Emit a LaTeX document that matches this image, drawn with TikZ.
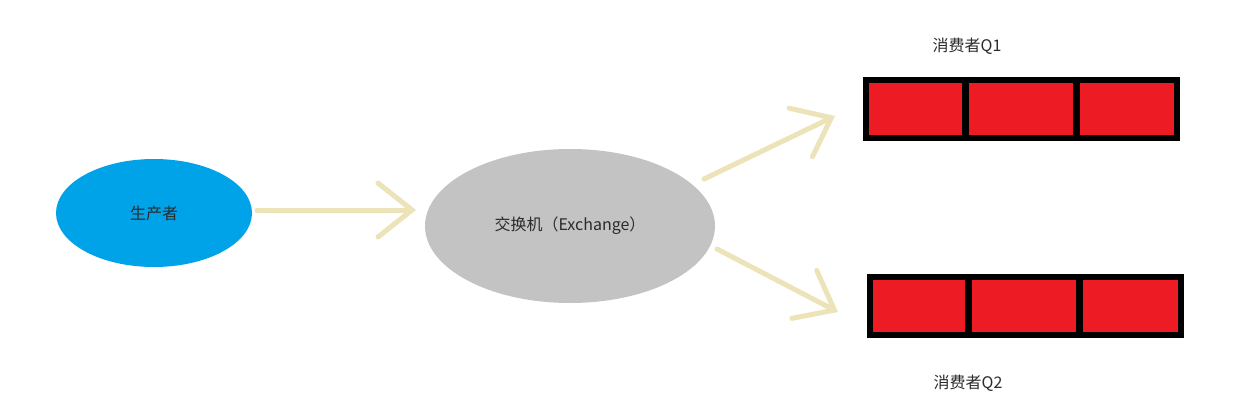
\documentclass[tikz,border=0pt]{standalone}
\usepackage{fontspec}
\setmainfont{Noto Sans CJK SC}
\usetikzlibrary{arrows.meta,shapes.geometric}
\definecolor{pblue}{HTML}{00A2E8}
\definecolor{pgray}{HTML}{C3C3C3}
\definecolor{pred}{HTML}{ED1C24}
\definecolor{parrow}{HTML}{EDE3B8}
\definecolor{ptext}{HTML}{2B2B2B}
\begin{document}
\begin{tikzpicture}[x=1pt,y=-1pt,
  every node/.style={font=\fontsize{16}{19}\selectfont, text=ptext},
  blob/.style={ellipse, inner sep=0pt},
  flow/.style={draw=parrow, line width=5pt, line cap=round,
    -{Straight Barb[length=34pt,width=54pt,line cap=round]}},
  queuebox/.style={rectangle, fill=pred, draw=black, line width=6pt, minimum width=311pt, minimum height=58pt, inner sep=0pt},
  divider/.style={draw=black, line width=7pt}
]
\useasboundingbox (0,0) rectangle (1248,404);
\fill[white] (0,0) rectangle (1248,404);

\node[blob, fill=pblue, minimum width=196pt, minimum height=108pt] (prod) at (154,213) {生产者};
\node[blob, fill=pgray, minimum width=290pt, minimum height=154pt] (ex) at (570,226) {交换机（Exchange）};

\node[queuebox] (q1) at (1021.5,109) {};
\node[queuebox] (q2) at (1025,305.5) {};
\draw[divider] ([xshift=102pt]q1.north west) -- ([xshift=102pt]q1.south west);
\draw[divider] ([xshift=213pt]q1.north west) -- ([xshift=213pt]q1.south west);
\draw[divider] ([xshift=102pt]q2.north west) -- ([xshift=102pt]q2.south west);
\draw[divider] ([xshift=213pt]q2.north west) -- ([xshift=213pt]q2.south west);

\node (l1) at (967,46) {消费者Q1};
\node (l2) at (968,383) {消费者Q2};

\coordinate (s0) at (257,210);
\coordinate (t0) at (416,210);
\coordinate (s1) at (704,179);
\coordinate (t1) at (835,116);
\coordinate (s2) at (717,249);
\coordinate (t2) at (838,312);

\draw[flow] (s0) -- (t0);
\draw[flow] (s1) -- (t1);
\draw[flow] (s2) -- (t2);
\end{tikzpicture}
\end{document}
